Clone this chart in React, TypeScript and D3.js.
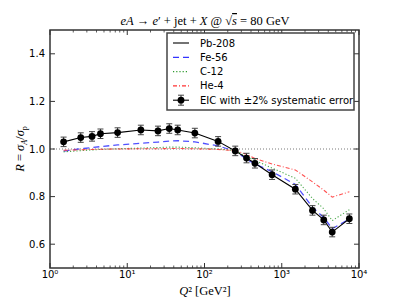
import React from 'react';
import * as d3 from 'd3';

// Q^2 bins in GeV^2
const q2 = [1.5, 2.5, 3.5, 4.5, 7.5, 15, 25, 35, 45, 75, 150, 250, 350, 450, 750, 1500, 2500, 3500, 4500, 7500];

// nuclear ratio R = sigma_A / sigma_p for each nucleus
const pb208 = [1.030, 1.048, 1.053, 1.064, 1.069, 1.080, 1.076, 1.086, 1.080, 1.067, 1.032, 0.992, 0.962, 0.940, 0.892, 0.831, 0.742, 0.702, 0.651, 0.707];
const fe56 = [0.991, 1.001, 1.006, 1.010, 1.017, 1.024, 1.029, 1.033, 1.035, 1.030, 1.013, 0.991, 0.957, 0.937, 0.905, 0.851, 0.755, 0.712, 0.665, 0.706];
const c12 = [0.988, 0.993, 0.996, 0.998, 1.001, 1.004, 1.006, 1.008, 1.008, 1.005, 1.000, 0.993, 0.968, 0.952, 0.920, 0.877, 0.792, 0.749, 0.699, 0.745];
const he4 = [0.995, 0.997, 0.998, 0.999, 1.000, 1.001, 1.001, 1.002, 1.002, 1.001, 0.998, 0.993, 0.978, 0.960, 0.937, 0.912, 0.862, 0.827, 0.798, 0.820];
const eicErr = 0.02;

const yTicks = [0.6, 0.8, 1.0, 1.2, 1.4];
const xTicks = [1, 10, 100, 1000, 10000];
const xTickLabels = ['10⁰', '10¹', '10²', '10³', '10⁴'];

const W = 399;
const H = 299;
const margin = { top: 30, right: 40, bottom: 31, left: 50 };

export default function App() {
  const iw = W - margin.left - margin.right;
  const ih = H - margin.top - margin.bottom;

  const x = d3.scaleLog().domain([1, 10000]).range([0, iw]);
  const y = d3.scaleLinear().domain([0.5, 1.5]).range([ih, 0]);

  const line = d3.line<number>()
    .x((_, i) => x(q2[i]))
    .y(d => y(d));

  // minor ticks on the log axis
  const minor: number[] = [];
  for (let e = 0; e < 4; e++) {
    for (let m = 2; m < 10; m++) minor.push(m * Math.pow(10, e));
  }

  const series = [
    { name: 'Pb-208', data: pb208, color: '#000000', dash: '', width: 1.1 },
    { name: 'Fe-56', data: fe56, color: '#3333ff', dash: '6,4', width: 1.3 },
    { name: 'C-12', data: c12, color: '#2e9a2e', dash: '1.2,2', width: 1.1 },
    { name: 'He-4', data: he4, color: '#ff3333', dash: '4,2,1,2', width: 1.1 },
  ];

  const tickFont = { fontFamily: 'DejaVu Sans, sans-serif', fontSize: 10 };
  const serif = 'Liberation Serif, DejaVu Serif, serif';

  const legX = 167 - margin.left;
  const legY = 33 - margin.top;
  const legRow = 14.3;

  return (
    <svg width={W} height={H} style={{ position: 'absolute', left: 0, top: 0, background: '#fff' }}>
      {/* title */}
      <text x={205} y={25} textAnchor="middle" fontFamily={serif} fontSize={12.5}>
        <tspan fontStyle="italic">eA</tspan>
        <tspan> → </tspan>
        <tspan fontStyle="italic">e</tspan>
        <tspan>′ + jet + </tspan>
        <tspan fontStyle="italic">X</tspan>
        <tspan> @ √</tspan>
        <tspan fontStyle="italic" textDecoration="overline">s</tspan>
        <tspan> = 80 GeV</tspan>
      </text>

      <g transform={`translate(${margin.left},${margin.top})`}>
        {/* reference line at R = 1 */}
        <line x1={0} x2={iw} y1={y(1)} y2={y(1)} stroke="#555" strokeWidth={0.8} strokeDasharray="1,2" />

        {series.slice(1).map(s => (
          <path key={s.name} d={line(s.data) ?? ''} fill="none" stroke={s.color}
            strokeWidth={s.width} strokeDasharray={s.dash} opacity={0.85} />
        ))}
        <path d={line(pb208) ?? ''} fill="none" stroke="#000" strokeWidth={1.1} />

        {/* EIC pseudo data with error bars */}
        {pb208.map((v, i) => {
          const cx = x(q2[i]);
          const y0 = y(v - eicErr);
          const y1 = y(v + eicErr);
          return (
            <g key={i}>
              <line x1={cx} x2={cx} y1={y0} y2={y1} stroke="#222" strokeWidth={1} />
              <line x1={cx - 3} x2={cx + 3} y1={y0} y2={y0} stroke="#444" strokeWidth={1} />
              <line x1={cx - 3} x2={cx + 3} y1={y1} y2={y1} stroke="#444" strokeWidth={1} />
              <circle cx={cx} cy={y(v)} r={3.4} fill="#000" />
            </g>
          );
        })}

        {/* frame */}
        <rect x={0} y={0} width={iw} height={ih} fill="none" stroke="#333" strokeWidth={1.5} />

        {/* y ticks */}
        {yTicks.map(t => (
          <g key={t}>
            <line x1={0} x2={5} y1={y(t)} y2={y(t)} stroke="#333" />
            <line x1={iw - 5} x2={iw} y1={y(t)} y2={y(t)} stroke="#333" />
            <text x={-5} y={y(t)} dy="0.35em" textAnchor="end" {...tickFont}>{t.toFixed(1)}</text>
          </g>
        ))}

        {/* x ticks */}
        {xTicks.map((t, i) => (
          <g key={t}>
            <line x1={x(t)} x2={x(t)} y1={ih} y2={ih - 5} stroke="#333" />
            <line x1={x(t)} x2={x(t)} y1={0} y2={5} stroke="#333" />
            <text x={x(t)} y={ih + 10} textAnchor="middle" {...tickFont}>{xTickLabels[i]}</text>
          </g>
        ))}
        {minor.map(t => (
          <g key={'m' + t}>
            <line x1={x(t)} x2={x(t)} y1={ih} y2={ih - 2.5} stroke="#333" strokeWidth={0.8} />
            <line x1={x(t)} x2={x(t)} y1={0} y2={2.5} stroke="#333" strokeWidth={0.8} />
          </g>
        ))}

        {/* legend */}
        <rect x={legX} y={legY} width={187} height={77} fill="#fff" stroke="#444" strokeWidth={1.5} />
        {series.map((s, i) => {
          const ly = legY + 10 + i * legRow;
          return (
            <g key={s.name}>
              <line x1={legX + 6} x2={legX + 22} y1={ly} y2={ly} stroke={s.color}
                strokeWidth={s.width} strokeDasharray={s.dash} />
              <text x={legX + 33} y={ly} dy="0.35em" fontFamily="DejaVu Sans, sans-serif" fontSize={10}>{s.name}</text>
            </g>
          );
        })}
        {(() => {
          const ly = legY + 10 + 4 * legRow;
          const cx = legX + 14;
          return (
            <g>
              <line x1={legX + 6} x2={legX + 22} y1={ly} y2={ly} stroke="#000" strokeWidth={1.1} />
              <line x1={cx} x2={cx} y1={ly - 5} y2={ly + 5} stroke="#222" />
              <line x1={cx - 3} x2={cx + 3} y1={ly - 5} y2={ly - 5} stroke="#444" />
              <line x1={cx - 3} x2={cx + 3} y1={ly + 5} y2={ly + 5} stroke="#444" />
              <circle cx={cx} cy={ly} r={3.4} fill="#000" />
              <text x={legX + 33} y={ly} dy="0.35em" fontFamily="DejaVu Sans, sans-serif" fontSize={10}>EIC with ±2% systematic error</text>
            </g>
          );
        })()}
      </g>

      {/* axis labels */}
      <text x={205} y={295} textAnchor="middle" fontFamily={serif} fontSize={12.5}>
        <tspan fontStyle="italic">Q</tspan>
        <tspan>² [GeV²]</tspan>
      </text>
      <text transform={`translate(24,${margin.top + ih / 2}) rotate(-90)`} textAnchor="middle"
        fontFamily={serif} fontSize={12.5}>
        <tspan fontStyle="italic">R</tspan>
        <tspan> = </tspan>
        <tspan fontStyle="italic">σ</tspan>
        <tspan fontStyle="italic" fontSize={8} dy={3}>A</tspan>
        <tspan dy={-3}>/</tspan>
        <tspan fontStyle="italic">σ</tspan>
        <tspan fontSize={8} dy={3}>p</tspan>
      </text>
    </svg>
  );
}
